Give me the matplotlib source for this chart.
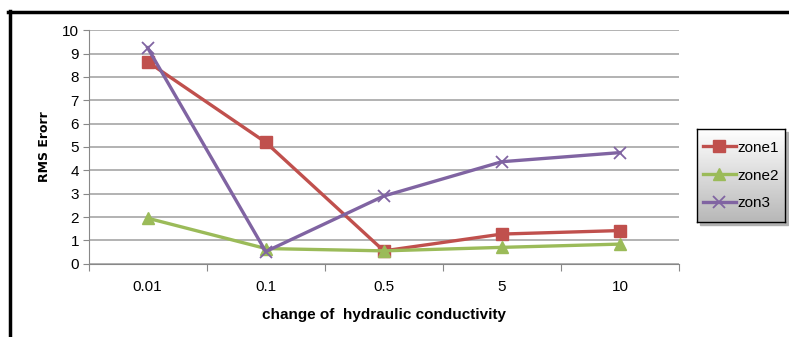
import matplotlib
matplotlib.use("Agg")
import matplotlib.pyplot as plt
import numpy as np
from matplotlib.lines import Line2D

categories = ['0.01', '0.1', '0.5', '5', '10']
zone1 = [8.65, 5.2, 0.55, 1.27, 1.42]
zone2 = [1.95, 0.65, 0.55, 0.7, 0.84]
zon3 = [9.25, 0.52, 2.9, 4.37, 4.76]

plt.rcParams['font.family'] = ['Liberation Sans Narrow', 'Liberation Sans', 'DejaVu Sans']

fig = plt.figure(figsize=(7.89, 3.37), dpi=100)
ax = fig.add_axes([0.1123, 0.2175, 0.7483, 0.6926])

x = np.arange(len(categories))
ax.plot(x, zone1, color='#C0504D', lw=2.4, marker='s', ms=9, label='zone1', zorder=3)
ax.plot(x, zone2, color='#9BBB59', lw=2.4, marker='^', ms=9, label='zone2', zorder=3)
ax.plot(x, zon3, color='#8064A2', lw=2.4, marker='x', ms=9, mew=1.3, label='zon3', zorder=4)

ax.set_xlim(-0.5, 4.5)
ax.set_ylim(0, 10)
ax.set_yticks(range(0, 11))
ax.set_xticks(np.arange(-0.5, 5, 1))
ax.set_xticklabels([])
ax.set_xticks(x, minor=True)
ax.set_xticklabels(categories, minor=True, fontsize=11)
ax.tick_params(axis='x', which='minor', length=0, pad=12)
ax.tick_params(axis='x', which='major', length=5, color='#888888')
ax.tick_params(axis='y', length=4, color='#888888', labelsize=11, pad=3)
ax.grid(axis='y', color='#a6a6a6', lw=1.2)
ax.set_axisbelow(True)
for s in ['top', 'right']:
    ax.spines[s].set_visible(False)
ax.spines['left'].set_color('#888888')
ax.spines['bottom'].set_color('#888888')

ax.set_ylabel('RMS Erorr', fontsize=9, fontweight='bold', family='DejaVu Sans', labelpad=8)
ax.set_xlabel('change of  hydraulic conductivity', fontsize=11, fontweight='bold', labelpad=10)

# outer frame (left and top)
fig.add_artist(Line2D([9.5 / 789, 9.5 / 789], [0, 1 - 11 / 337], color='black', lw=2.5))
fig.add_artist(Line2D([8 / 789, 1], [1 - 12 / 337, 1 - 12 / 337], color='black', lw=2.5))

# legend box with gradient and shadow
lx0, lx1, ly0, ly1 = 697 / 789, 785 / 789, 1 - 222 / 337, 1 - 129 / 337
shadow = plt.Rectangle((lx0 + 3 / 789, ly0 - 3 / 337), lx1 - lx0, ly1 - ly0,
                       transform=fig.transFigure, color='#b0b0b0', zorder=-1)
fig.add_artist(shadow)
lax = fig.add_axes([lx0, ly0, lx1 - lx0, ly1 - ly0], zorder=2)
grad = np.linspace(1, 0.72, 100).reshape(-1, 1)
lax.imshow(np.dstack([grad, grad, grad]), aspect='auto', extent=[0, 1, 0, 1])
lax.set_xticks([])
lax.set_yticks([])
for s in lax.spines.values():
    s.set_color('black')
    s.set_linewidth(1)
h, l = ax.get_legend_handles_labels()
lax.legend(h, l, loc='center', frameon=False, fontsize=11, handlelength=2.2,
           handletextpad=0.1, labelspacing=0.9, borderaxespad=0)

fig.savefig('out.png', dpi=100)
